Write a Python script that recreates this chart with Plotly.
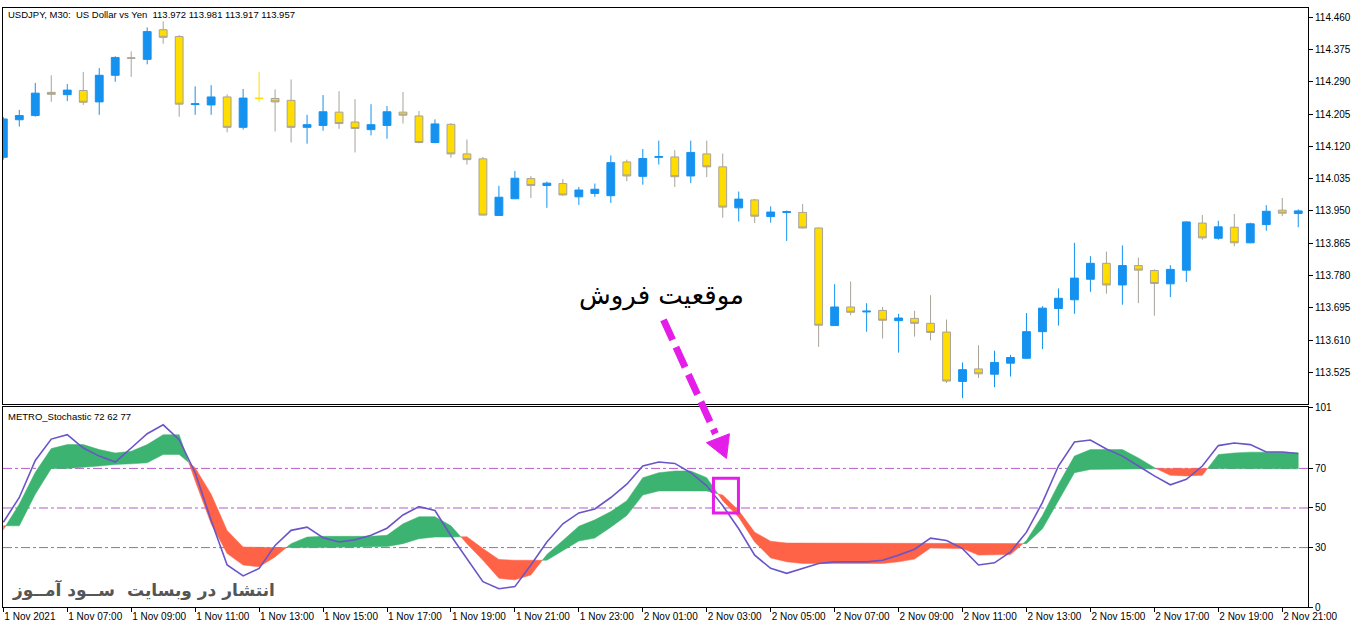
import plotly.graph_objects as go

# ---------------- data ----------------
opens = [114.091, 114.190, 114.201, 114.262, 114.256, 114.267, 114.237, 114.307, 114.353, 114.349,
         114.427, 114.409, 114.230, 114.229, 114.250, 114.170, 114.247, 114.246, 114.241, 114.170,
         114.175, 114.210, 114.184, 114.164, 114.175, 114.210, 114.200, 114.130, 114.178, 114.100,
         114.087, 113.938, 113.982, 114.035, 114.017, 114.022, 113.987, 113.996, 113.990, 114.079,
         114.041, 114.091, 114.092, 114.042, 114.100, 114.066, 113.958, 113.979, 113.935, 113.946,
         113.946, 113.905, 113.648, 113.697, 113.684, 113.688, 113.661, 113.667, 113.654, 113.631,
         113.501, 113.534, 113.520, 113.549, 113.562, 113.632, 113.693, 113.716, 113.770, 113.812,
         113.755, 113.806, 113.793, 113.758, 113.794, 113.918, 113.878, 113.907, 113.866, 113.914,
         113.952, 113.943]
highs = [114.197, 114.216, 114.287, 114.307, 114.284, 114.316, 114.326, 114.357, 114.370, 114.433,
         114.449, 114.413, 114.278, 114.281, 114.257, 114.271, 114.316, 114.270, 114.296, 114.203,
         114.255, 114.265, 114.244, 114.231, 114.226, 114.263, 114.213, 114.191, 114.181, 114.138,
         114.092, 114.016, 114.055, 114.042, 114.027, 114.034, 114.013, 114.022, 114.096, 114.085,
         114.113, 114.135, 114.110, 114.135, 114.135, 114.101, 114.001, 113.982, 113.962, 113.951,
         113.968, 113.906, 113.757, 113.764, 113.707, 113.697, 113.679, 113.687, 113.728, 113.664,
         113.551, 113.596, 113.582, 113.571, 113.681, 113.699, 113.746, 113.866, 113.831, 113.843,
         113.859, 113.827, 113.796, 113.807, 113.922, 113.939, 113.924, 113.942, 113.919, 113.965,
         113.984, 113.954]
lows = [114.085, 114.172, 114.198, 114.237, 114.239, 114.229, 114.203, 114.290, 114.303, 114.336,
        114.390, 114.198, 114.203, 114.203, 114.157, 114.164, 114.237, 114.159, 114.130, 114.127,
        114.161, 114.166, 114.104, 114.149, 114.140, 114.180, 114.128, 114.128, 114.090, 114.072,
        113.938, 113.937, 113.981, 113.984, 113.958, 113.990, 113.966, 113.987, 113.971, 114.028,
        114.019, 114.072, 114.013, 114.023, 114.039, 113.932, 113.922, 113.918, 113.919, 113.871,
        113.904, 113.592, 113.647, 113.675, 113.632, 113.614, 113.577, 113.619, 113.609, 113.497,
        113.457, 113.510, 113.486, 113.514, 113.561, 113.586, 113.648, 113.679, 113.737, 113.732,
        113.703, 113.707, 113.674, 113.723, 113.763, 113.874, 113.874, 113.857, 113.865, 113.898,
        113.936, 113.907]
closes = [114.192, 114.201, 114.260, 114.257, 114.268, 114.236, 114.307, 114.354, 114.352, 114.422,
          114.407, 114.231, 114.232, 114.250, 114.170, 114.247, 114.246, 114.237, 114.170, 114.177,
          114.211, 114.180, 114.167, 114.177, 114.211, 114.202, 114.130, 114.179, 114.100, 114.085,
          113.939, 113.986, 114.036, 114.017, 114.023, 113.992, 114.005, 114.007, 114.077, 114.042,
          114.088, 114.093, 114.040, 114.104, 114.066, 113.960, 113.981, 113.936, 113.947, 113.948,
          113.905, 113.649, 113.697, 113.683, 113.686, 113.662, 113.668, 113.654, 113.630, 113.502,
          113.532, 113.521, 113.551, 113.564, 113.632, 113.694, 113.720, 113.773, 113.812, 113.755,
          113.806, 113.794, 113.759, 113.796, 113.921, 113.879, 113.908, 113.866, 113.916, 113.949,
          113.944, 113.950]
yellow_doji_bars = [16]

stoch_line = [42.8, 55.3, 74, 84.8, 87, 80.3, 76.2, 73.2, 80.3, 87.5, 92, 84.5, 67.8, 43.7, 21.2,
              15.7, 19.5, 31.1, 38.7, 40.3, 35, 32.8, 34, 36.2, 39.8, 46.5, 50.7, 48.7, 36, 24.5,
              12.8, 9.2, 10.3, 21.2, 32.8, 42, 47.5, 49.5, 55.3, 62, 71.2, 73.2, 72.5, 67.8, 61.2,
              51.2, 39.5, 26.2, 19.5, 17, 19.5, 22, 22.8, 22.8, 22.8, 23.6, 26.2, 29.2, 34.8, 33.6,
              29.5, 21.2, 22.3, 27.8, 37.8, 52.8, 71.2, 83.3, 84.3, 79.8, 76.2, 71.2, 66.2, 61.7,
              64.5, 71.2, 81.5, 82.8, 82, 78.3, 78.3, 77.5]
band_fast = [39, 52, 68, 80, 82, 82, 79.5, 77.8, 78.6, 82, 87, 87,
             63.7, 42, 27, 21.2, 20.3, 25.3,
             32, 35.3, 35.7, 35.7, 35.7, 35.7, 36.2, 42, 45.6, 45.6, 41,
             32, 23.6, 14.5, 13.7, 16.2,
             26.5, 33.6, 40.8, 44, 48.2, 53.7, 65.3, 67.8, 68.7, 68.7, 65.3,
             53.7, 45.3, 32.8, 24.8, 22.8, 22, 22, 22, 22, 22, 22, 22.8, 24.2, 29.8, 29.8, 29.5,
             26.2, 26.2, 26.5,
             33.6, 46.2, 62, 76.2, 79.5, 79.5, 79.5, 75.3, 70.3,
             66.5, 66.2, 66.5,
             77, 77.8, 78.2, 78.2, 78.2, 77.8]
band_slow = [41, 41, 57, 70, 70, 70.7, 71.2, 72, 72.3, 72.8, 77, 77,
             70.3, 57, 38.6, 30.3, 30.3, 30,
             30, 30, 30, 30, 30.3, 30.3, 30.5, 32, 34.5, 35.3, 35.3,
             35.5, 29.5, 24, 23.6, 23.6,
             23.6, 28.6, 33.3, 34.8, 40.3, 46.2, 56.5, 58.6, 58.6, 58.6, 58.6,
             56.5, 48.7, 37.8, 33.2, 32.3, 32, 32, 32, 32, 32, 32, 32, 32, 32, 32, 32,
             32, 32, 32,
             32, 39.5, 53.7, 67.8, 69.5, 69.5, 69.8, 69.8, 69.8,
             70, 70, 70,
             69.8, 69.8, 69.8, 69.8, 69.8, 69.8]
levels = [70, 50, 30]

time_labels = ["1 Nov 2021", "1 Nov 07:00", "1 Nov 09:00", "1 Nov 11:00", "1 Nov 13:00",
               "1 Nov 15:00", "1 Nov 17:00", "1 Nov 19:00", "1 Nov 21:00", "1 Nov 23:00",
               "2 Nov 01:00", "2 Nov 03:00", "2 Nov 05:00", "2 Nov 07:00", "2 Nov 09:00",
               "2 Nov 11:00", "2 Nov 13:00", "2 Nov 15:00", "2 Nov 17:00", "2 Nov 19:00",
               "2 Nov 21:00"]
bars_per_label = 4
price_ticks = [114.460, 114.375, 114.290, 114.205, 114.120, 114.035, 113.950, 113.865,
               113.780, 113.695, 113.610, 113.525]
ind_ticks = [101, 70, 50, 30, 0]

title_text = "USDJPY, M30:  US Dollar vs Yen  113.972 113.981 113.917 113.957"
ind_title = "METRO_Stochastic 72 62 77"
sell_text = "موقعیت فروش"
watermark = "انتشار در وبسایت  ســود آمــوز"

# ---------------- styles ----------------
BLUE = "#1592f0"
YELLOW = "#ffdd00"
GREY = "#a8a398"
GREEN = "#3cb371"
RED = "#ff6347"
PURPLE = "#6a55c8"
LEVEL = "#b45cc8"
MAGENTA = "#e41de8"
FONT = "Liberation Sans"

W, H = 1362, 628
ML, MR, MT, MB = 2, 54, 2, 21
PW, PH = W - ML - MR, H - MT - MB


def px(x):
    return (x - ML) / PW


def py(y):
    return (H - MB - y) / PH


n = len(opens)
xs = list(range(n))

fig = go.Figure()

# candles
main_ix = [i for i in xs if i not in yellow_doji_bars]
fig.add_trace(go.Candlestick(
    x=main_ix,
    open=[opens[i] for i in main_ix], high=[highs[i] for i in main_ix],
    low=[lows[i] for i in main_ix], close=[closes[i] for i in main_ix],
    increasing=dict(fillcolor=BLUE, line=dict(color=BLUE, width=1)),
    decreasing=dict(fillcolor=YELLOW, line=dict(color=GREY, width=1)),
    whiskerwidth=0, xaxis="x", yaxis="y", showlegend=False))
fig.add_trace(go.Candlestick(
    x=yellow_doji_bars,
    open=[opens[i] for i in yellow_doji_bars], high=[highs[i] for i in yellow_doji_bars],
    low=[lows[i] for i in yellow_doji_bars], close=[closes[i] for i in yellow_doji_bars],
    increasing=dict(fillcolor=YELLOW, line=dict(color=YELLOW, width=1)),
    decreasing=dict(fillcolor=YELLOW, line=dict(color=YELLOW, width=1)),
    whiskerwidth=0, xaxis="x", yaxis="y", showlegend=False))

# band (filling between two buffers, colored by which is above)
pts = []
for i in range(n):
    if i > 0:
        d0 = band_fast[i - 1] - band_slow[i - 1]
        d1 = band_fast[i] - band_slow[i]
        if d0 * d1 < 0:
            t = d0 / (d0 - d1)
            xc = xs[i - 1] + t * (xs[i] - xs[i - 1])
            yc = band_fast[i - 1] + t * (band_fast[i] - band_fast[i - 1])
            pts.append((xc, yc, yc, 0))
    d = band_fast[i] - band_slow[i]
    pts.append((xs[i], band_fast[i], band_slow[i], 1 if d > 0 else (-1 if d < 0 else 0)))

groups = []
cur = [pts[0]]
sign = pts[0][3] or None
for p in pts[1:]:
    if p[3] == 0:
        cur.append(p)
        groups.append((sign, cur))
        cur = [p]
        sign = None
    else:
        if sign is None:
            sign = p[3]
        cur.append(p)
groups.append((sign, cur))

for sgn, g in groups:
    if len(g) < 2 or sgn is None:
        continue
    gx = [p[0] for p in g]
    ga = [p[1] for p in g]
    gb = [p[2] for p in g]
    col = GREEN if sgn > 0 else RED
    fig.add_trace(go.Scatter(
        x=gx + gx[::-1], y=ga + gb[::-1], fill="toself",
        fillcolor=col, line=dict(width=0.5, color=col),
        mode="lines", hoverinfo="skip", showlegend=False, xaxis="x2", yaxis="y2"))

# level lines
for lv in levels:
    fig.add_shape(type="line", xref="x2 domain", yref="y2", x0=0, x1=1, y0=lv, y1=lv,
                  line=dict(color=LEVEL, width=1, dash="dashdot"), layer="below")

fig.add_trace(go.Scatter(x=xs, y=stoch_line, mode="lines", line=dict(color=PURPLE, width=1.6),
                         hoverinfo="skip", showlegend=False, xaxis="x2", yaxis="y2"))

# ---------------- layout ----------------
main_bottom_px, ind_top_px = 402, 405
main_dom = [py(main_bottom_px), 1]
ind_dom = [0, py(ind_top_px)]

x_range = [-0.02, 81.61]
p_top = 114.4842
p_bot = 113.4415

axis_font = dict(family=FONT, size=10, color="black")

fig.update_layout(
    width=W, height=H, margin=dict(l=ML, r=MR, t=MT, b=MB),
    paper_bgcolor="white", plot_bgcolor="white",
    showlegend=False,
    xaxis=dict(domain=[0, 1], range=x_range, anchor="y", showticklabels=False, ticks="",
               showgrid=False, zeroline=False, showline=True, mirror=True, linecolor="black",
               linewidth=1, rangeslider=dict(visible=False)),
    yaxis=dict(domain=main_dom, range=[p_bot, p_top], side="right", anchor="x",
               tickvals=price_ticks, ticktext=[f"{v:.3f}" for v in price_ticks],
               ticks="outside", ticklen=4, tickcolor="black", tickfont=axis_font,
               showgrid=False, zeroline=False, showline=True, mirror=True, linecolor="black",
               linewidth=1),
    xaxis2=dict(domain=[0, 1], range=x_range, anchor="y2", matches="x",
                tickvals=[k * bars_per_label for k in range(len(time_labels))],
                ticktext=time_labels, ticks="outside", ticklen=4, tickcolor="black",
                ticklabelposition="outside right", tickfont=axis_font,
                showgrid=False, zeroline=False, showline=True, mirror=True, linecolor="black",
                linewidth=1, rangeslider=dict(visible=False)),
    yaxis2=dict(domain=ind_dom, range=[0, 101], side="right", anchor="x2",
                tickvals=ind_ticks, ticktext=[str(v) for v in ind_ticks],
                ticks="outside", ticklen=4, tickcolor="black", tickfont=axis_font,
                showgrid=False, zeroline=False, showline=True, mirror=True, linecolor="black",
                linewidth=1),
)

# texts
fig.add_annotation(xref="paper", yref="paper", x=px(5), y=py(9), text=title_text,
                   showarrow=False, xanchor="left", yanchor="middle",
                   font=dict(family=FONT, size=9.5, color="black"))
fig.add_annotation(xref="paper", yref="paper", x=px(5), y=py(415), text=ind_title,
                   showarrow=False, xanchor="left", yanchor="middle",
                   font=dict(family=FONT, size=9.5, color="black"))
fig.add_annotation(xref="paper", yref="paper", x=px(661), y=py(292), text=sell_text,
                   showarrow=False, xanchor="center", yanchor="middle",
                   font=dict(family="DejaVu Sans", size=26, color="black"))
fig.add_annotation(xref="paper", yref="paper", x=px(9), y=py(590), text="<b>" + watermark + "</b>",
                   showarrow=False, xanchor="left", yanchor="middle",
                   font=dict(family="DejaVu Sans", size=17, color="#555555"))

# magenta dashed arrow and box
fig.add_shape(type="line", xref="paper", yref="paper",
              x0=px(663), y0=py(317), x1=px(715), y1=py(432),
              line=dict(color=MAGENTA, width=7, dash="22px,8px"))
tri = [(706, 441), (729, 432), (726, 457)]
path = "M {} {} L {} {} L {} {} Z".format(*[v for p in tri for v in (px(p[0]), py(p[1]))])
fig.add_shape(type="path", xref="paper", yref="paper", path=path,
              fillcolor=MAGENTA, line=dict(color=MAGENTA, width=1))
fig.add_shape(type="rect", xref="paper", yref="paper",
              x0=px(713), y0=py(512), x1=px(738), y1=py(477),
              line=dict(color=MAGENTA, width=3))

fig.write_html("out.html", config={"displayModeBar": False},
               post_script="document.body.style.margin='0px';document.body.style.padding='0px';")
